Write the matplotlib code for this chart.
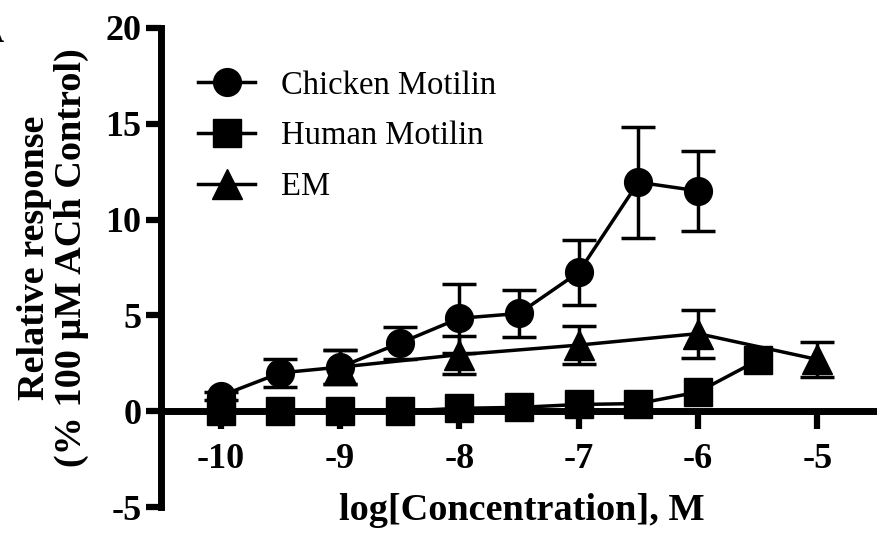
import numpy as np
import matplotlib
matplotlib.use("Agg")
import matplotlib.pyplot as plt
from matplotlib.lines import Line2D

plt.rcParams['font.family'] = ['Liberation Serif', 'DejaVu Serif']

# log molar concentrations and mean responses (+/- SEM)
x_chicken = [-10, -9.5, -9, -8.5, -8, -7.5, -7, -6.5, -6]
chicken = [0.8, 2.0, 2.3, 3.55, 4.85, 5.1, 7.25, 11.95, 11.5]
chicken_err = [0.2, 0.75, 0.9, 0.85, 1.8, 1.25, 1.7, 2.9, 2.1]

x_human = [-10, -9.5, -9, -8.5, -8, -7.5, -7, -6.5, -6, -5.5]
human = [0.0, 0.0, 0.0, 0.0, 0.15, 0.2, 0.35, 0.4, 1.0, 2.65]

x_em = [-9, -8, -7, -6, -5]
em = [2.3, 2.95, 3.45, 4.05, 2.7]
em_err = [0.9, 1.0, 1.0, 1.25, 0.9]

xticks = [-10, -9, -8, -7, -6, -5]
yticks = [-5, 0, 5, 10, 15, 20]

fig = plt.figure(figsize=(8.77, 5.33), dpi=100)
ax = fig.add_axes([161 / 877, 1 - 507 / 533, 1 - 161 / 877, (507 - 28) / 533])

lw = 2.5
ebar = dict(color='black', ecolor='black', elinewidth=lw, capsize=12,
            capthick=lw, linewidth=lw, clip_on=False)
ax.errorbar(x_em, em, yerr=em_err, marker='^', markersize=22, zorder=3, **ebar)
ax.plot(x_human, human, color='black', marker='s', markersize=20,
        linewidth=lw, zorder=4, clip_on=False)
ax.errorbar(x_chicken, chicken, yerr=chicken_err, marker='o', markersize=20,
            zorder=5, **ebar)

ax.set_xlim(-10.5, -4.5)
ax.set_ylim(-5, 20)
ax.set_xticks(xticks)
ax.set_yticks(yticks)
ax.set_xticklabels([str(t) for t in xticks])
ax.set_yticklabels([str(t) for t in yticks])

ax.spines['top'].set_visible(False)
ax.spines['right'].set_visible(False)
ax.spines['bottom'].set_position(('data', 0))
for s in ('left', 'bottom'):
    ax.spines[s].set_linewidth(5)
    ax.spines[s].set_capstyle('projecting')
ax.tick_params(axis='both', width=4.5, length=11, labelsize=26)
ax.tick_params(axis='x', direction='out', length=13, pad=10)
ax.tick_params(axis='y', pad=3)
for lab in ax.get_xticklabels() + ax.get_yticklabels():
    lab.set_fontweight('bold')

ax.set_ylabel('Relative response\n(% 100 \u00b5M ACh Control)',
              fontsize=27.5, fontweight='bold', linespacing=1.05,
              ha='center', va='center')
ax.yaxis.set_label_coords(-0.151, 0.52)
fig.text(0.595, 1 - 511 / 533, 'log[Concentration], M', ha='center',
         va='center', fontsize=27.5, fontweight='bold')

# panel letter, mostly cut off at the left edge
fig.text(0.004, 1 - 42 / 533, 'A', ha='right', va='baseline',
         fontsize=26, fontweight='bold')

handles = [
    Line2D([], [], color='black', linewidth=lw, marker='o', markersize=20),
    Line2D([], [], color='black', linewidth=lw, marker='s', markersize=20),
    Line2D([], [], color='black', linewidth=lw, marker='^', markersize=22),
]
labels = ['Chicken Motilin', 'Human Motilin', 'EM']
fig.legend(handles, labels, loc='upper left',
           bbox_to_anchor=(198 / 877, 1 - 70 / 533),
           frameon=False, fontsize=23.5, handlelength=1.75, handletextpad=0.8,
           labelspacing=0.62, borderpad=0, borderaxespad=0)

fig.savefig('out.png', dpi=100)
